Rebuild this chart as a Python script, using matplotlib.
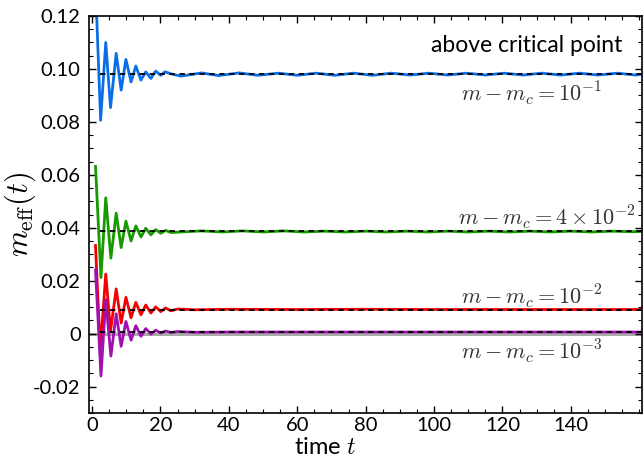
import matplotlib
matplotlib.use("Agg")
import matplotlib.pyplot as plt
from matplotlib.ticker import MultipleLocator, FuncFormatter

plt.rcParams["font.family"] = ["Lato", "DejaVu Sans"]
plt.rcParams["mathtext.fontset"] = "cm"

# values, peaks/troughs of each damped oscillation
t_blue = [1.0, 2.5, 4.0, 5.4, 7.05, 8.5, 9.9, 11.4, 12.8, 14.3,
          15.7, 17.2, 18.6, 20.1, 21.3, 23.5, 26, 32, 37, 43,
          48.5, 54.5, 60, 65.5, 71, 76.5, 82, 87.5, 93, 98.5,
          104, 109.5, 115, 120.5, 126, 131.5, 137, 142.5, 148, 153.5,
          159, 161]
m_blue = [0.132, 0.0806, 0.110, 0.0854, 0.1059, 0.0920, 0.1036, 0.0951, 0.1011, 0.0958,
          0.0989, 0.0964, 0.0992, 0.0976, 0.0989, 0.0980, 0.0973, 0.0985, 0.0975, 0.0985,
          0.0976, 0.0984, 0.0976, 0.0984, 0.0976, 0.0984, 0.0976, 0.0984, 0.0977, 0.0984,
          0.0977, 0.0984, 0.0977, 0.0984, 0.0977, 0.0984, 0.0977, 0.0984, 0.0977, 0.0984,
          0.0977, 0.0980]

t_green = [1.0, 2.6, 4.0, 5.5, 7.05, 8.5, 9.9, 11.4, 12.8, 14.3,
           15.7, 17.2, 18.6, 20.1, 21.5, 23, 26, 32, 38, 44,
           50, 56, 62, 68, 74, 80, 86, 92, 98, 104,
           110, 116, 122, 128, 134, 140, 146, 152, 158, 161]
m_green = [0.0632, 0.0212, 0.0513, 0.0285, 0.0455, 0.0325, 0.0425, 0.0350, 0.0407, 0.0365,
           0.0398, 0.0373, 0.0393, 0.0379, 0.0390, 0.0382, 0.0384, 0.0388, 0.0384, 0.0388,
           0.0384, 0.0388, 0.0384, 0.0387, 0.0384, 0.0387, 0.0384, 0.0387, 0.0384, 0.0387,
           0.0384, 0.0387, 0.0384, 0.0387, 0.0384, 0.0387, 0.0384, 0.0387, 0.0385, 0.0386]

t_red = [1.0, 2.4, 4.0, 5.4, 7.05, 8.5, 9.9, 11.4, 12.8, 14.3,
         15.7, 17.2, 18.6, 20.1, 21.5, 23, 25, 30, 40, 60,
         80, 100, 120, 140, 161]
m_red = [0.0333, -0.0060, 0.0225, 0.0010, 0.0169, 0.0040, 0.0137, 0.0060, 0.0118, 0.0071,
         0.0108, 0.0078, 0.0101, 0.0083, 0.0097, 0.0086, 0.0093, 0.0090, 0.0092, 0.0091,
         0.0092, 0.0091, 0.0091, 0.0091, 0.0091]

t_purple = [1.0, 2.6, 4.0, 5.5, 7.05, 8.5, 9.9, 11.4, 12.8, 14.3,
            15.7, 17.2, 18.6, 20.1, 21.5, 23, 25, 30, 40, 60,
            80, 100, 120, 140, 161]
m_purple = [0.0241, -0.0160, 0.0128, -0.0085, 0.0075, -0.0048, 0.0046, -0.0025, 0.0030, -0.0010,
            0.0019, -0.0002, 0.0013, 0.0002, 0.0010, 0.0004, 0.0008, 0.0005, 0.0006, 0.0006,
            0.0006, 0.0006, 0.0006, 0.0006, 0.0006]

plateaus = [0.0980, 0.0386, 0.0090, 0.0006]
labels = [r"$m - m_c = 10^{-1}$", r"$m - m_c = 4\times10^{-2}$",
          r"$m - m_c = 10^{-2}$", r"$m - m_c = 10^{-3}$"]
xticks = [0, 20, 40, 60, 80, 100, 120, 140]

fig = plt.figure(figsize=(6.43, 4.59), dpi=100)
ax = fig.add_axes([0.1384, 0.1002, 0.8600, 0.8649])

ax.axhline(0, color="#aaaaaa", lw=2.2, zorder=1)
ax.plot(t_blue, m_blue, color="#0a6fe6", lw=2, zorder=2)
ax.plot(t_green, m_green, color="#169a00", lw=2, zorder=2)
ax.plot(t_red, m_red, color="#f50000", lw=2, zorder=2)
ax.plot(t_purple, m_purple, color="#a010b0", lw=2, zorder=2)
for lvl in plateaus:
    ax.hlines(lvl, 2.2, 161, colors="k", linestyles=(0, (3, 2.5)), lw=1.3, zorder=3)

# labels next to the plateaus
lab_pos = [(128.5, 0.0908), (133, 0.0442), (128.5, 0.0143), (128.5, -0.0068)]
for (x, y), s in zip(lab_pos, labels):
    ax.text(x, y, s, fontsize=16, color="#333333", ha="center", va="center")
ax.text(155, 0.1090, "above critical point", fontsize=16.5, ha="right", va="center")

ax.set_xlim(-0.9, 160.8)
ax.set_ylim(-0.03, 0.12)
ax.set_xticks(xticks)
ax.xaxis.set_minor_locator(MultipleLocator(5))
ax.yaxis.set_major_locator(MultipleLocator(0.02))
ax.yaxis.set_minor_locator(MultipleLocator(0.005))
ax.yaxis.set_major_formatter(FuncFormatter(lambda v, p: "0" if abs(v) < 1e-9 else f"{v:.2f}"))
ax.tick_params(which="both", direction="in", top=True, right=True, labelsize=14.5)
ax.tick_params(which="major", length=5, width=1)
ax.tick_params(which="minor", length=3, width=0.8)
ax.tick_params(axis="y", pad=6)
ax.tick_params(axis="x", pad=3)
for sp in ax.spines.values():
    sp.set_linewidth(1.2)

ax.set_xlabel("time $t$", fontsize=17)
ax.xaxis.set_label_coords(0.427, -0.06)
ax.set_ylabel(r"$m_{\rm eff}(t)$", fontsize=22)
ax.yaxis.set_label_coords(-0.093, 0.5)

fig.savefig("out.png", dpi=100)
